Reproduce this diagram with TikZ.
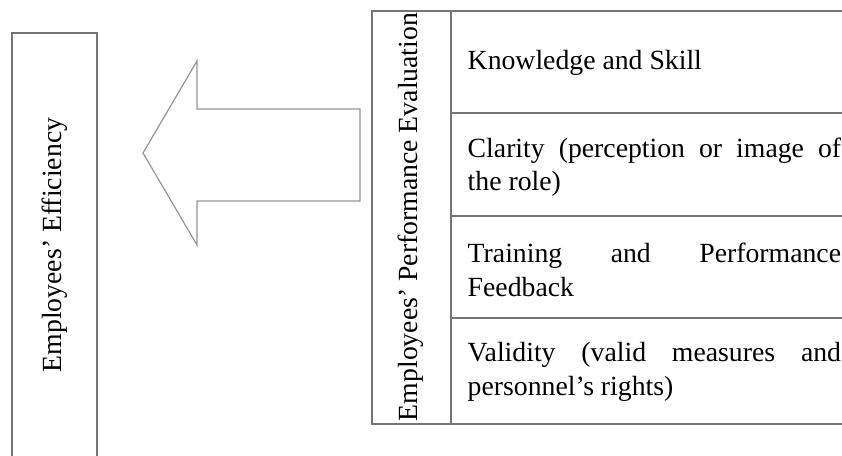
\documentclass[tikz,border=0pt]{standalone}
\usepackage{fontspec}
\setmainfont{Liberation Serif}
\definecolor{boxgray}{RGB}{118,118,118}
\definecolor{arrowgray}{RGB}{150,150,150}
\newcommand{\spreadline}[1]{\makebox[280pt][s]{#1}}
\tikzset{every picture/.style={line width=1.1pt}}
\tikzset{
  cellbox/.style={draw=boxgray, line width=1.1pt},
  celltext/.style={anchor=west, inner sep=0pt, align=left, font=\fontsize{20.8}{25}\selectfont},
  sidetext/.style={rotate=90, inner sep=0pt, font=\fontsize{20.8}{25}\selectfont},
}

\begin{document}
\begin{tikzpicture}[x=0.75pt,y=0.75pt,yscale=-1,xscale=1]
\clip (0,0) rectangle (842,456); %picture is 842 wide and 456 high
\fill [white] (0,0) rectangle (842,456);

%Shape: Rectangle
\draw [cellbox] (12,33) -- (97,33) -- (97,470) -- (12,470) -- cycle ;
%Shape: Left Arrow
\draw [draw=arrowgray, line width=0.9pt, line join=miter] (360,109) -- (197,109) -- (197,61) -- (143,153) -- (197,245) -- (197,201) -- (360,201) -- cycle ;
%Shape: Rectangle
\draw [cellbox] (860,11) -- (372,11) -- (372,424) -- (860,424) ;
%Straight Lines
\draw [cellbox] (451,11) -- (451,424) ;
\draw [cellbox] (451,113) -- (860,113) ;
\draw [cellbox] (451,216) -- (860,216) ;
\draw [cellbox] (451,318) -- (860,318) ;

% Text Node
\draw (55,245) node (eff) [sidetext] {Employees’ Efficiency};
% Text Node
\draw (411,217) node (eval) [sidetext] {Employees’ Performance Evaluation};
% Text Node
\draw (467,63) node (kno) [celltext] {Knowledge and Skill};
% Text Node
\draw (467,167) node (cla) [celltext] {\spreadline{Clarity (perception or image of}\\the role)};
% Text Node
\draw (467,270) node (tra) [celltext] {\spreadline{Training and Performance}\\Feedback};
% Text Node
\draw (467,372) node (val) [celltext] {\spreadline{Validity (valid measures and}\\personnel’s rights)};

\end{tikzpicture}
\end{document}
